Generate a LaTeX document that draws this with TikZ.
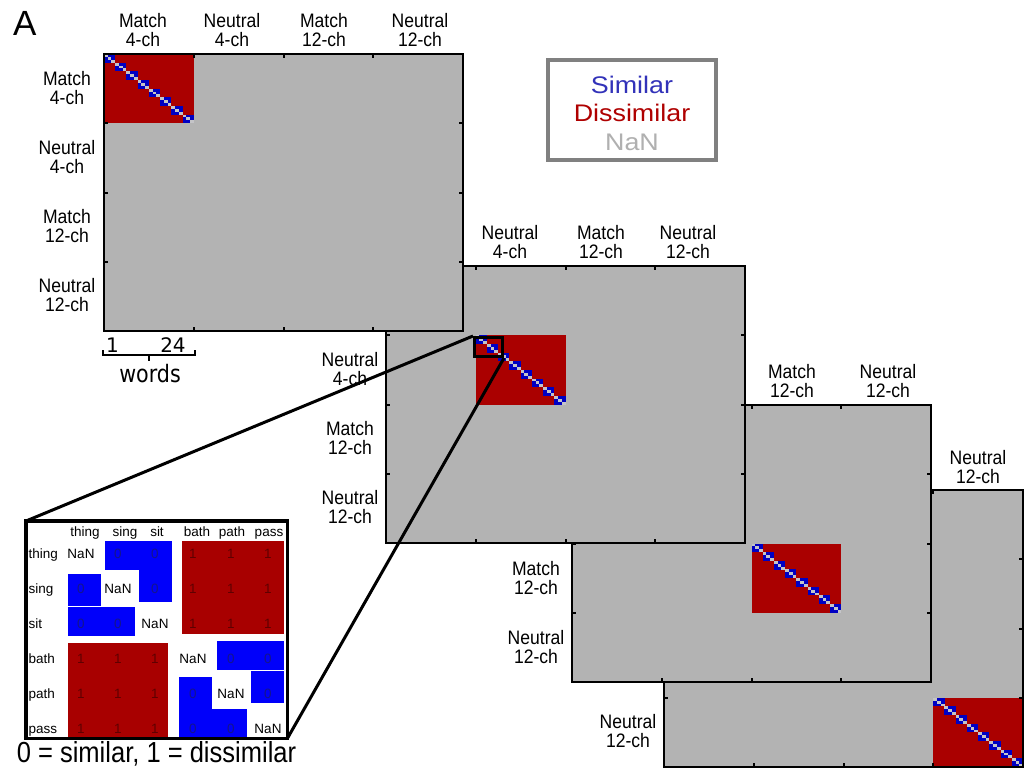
\documentclass[tikz,border=0pt]{standalone}
\usepackage{fontspec}
\setmainfont{Liberation Sans}
\newfontfamily\lblfont[FakeStretch=0.9]{Liberation Sans}
\newfontfamily\capfont[FakeStretch=0.88]{Liberation Sans}
\newfontfamily\legfont[FakeStretch=1.12]{Liberation Sans}
\newfontfamily\wordfont[FakeStretch=0.86]{DejaVu Sans}
\newfontfamily\numfont{DejaVu Sans}

\definecolor{nangray}{RGB}{179,179,179}
\definecolor{diaggray}{RGB}{196,196,200}
\definecolor{dissimred}{RGB}{170,0,0}
\definecolor{diagblue}{RGB}{0,0,195}
\definecolor{cellblue}{RGB}{0,0,250}
\definecolor{cellred}{RGB}{168,0,0}
\definecolor{zerotext}{RGB}{20,20,140}
\definecolor{onetext}{RGB}{95,0,0}
\definecolor{legblue}{RGB}{50,50,185}
\definecolor{legred}{RGB}{175,0,0}
\definecolor{leggray}{RGB}{176,176,176}
\definecolor{legframe}{RGB}{128,128,128}

\def\mw{359}
\def\mh{277}

\tikzset{
  frame/.style={draw=black, line width=2.2pt},
  tickmark/.style={black, line width=2pt},
  axlabel/.style={align=center, inner sep=0pt, font=\lblfont\fontsize{19.5}{18.5}\selectfont},
  celltext/.style={inner sep=0pt, anchor=base, font=\fontsize{13.5}{14}\selectfont},
  headtext/.style={inner sep=0pt, anchor=base, font=\fontsize{13.5}{14}\selectfont},
  rowtext/.style={inner sep=0pt, anchor=base west, font=\fontsize{13.5}{14}\selectfont},
  zeroval/.style={celltext, text=zerotext},
  oneval/.style={celltext, text=onetext},
  nanval/.style={celltext, text=black},
  connector/.style={black, line width=3pt},
}

% one dissimilarity matrix: left, top, index of the condition block
\newcommand\rdmmatrix[3]{%
  \begin{scope}[shift={(#1,#2)}]
    \fill[nangray] (0,0) rectangle (\mw,\mh);
    \pgfmathsetmacro\bx{#3*\mw/4}
    \pgfmathsetmacro\by{#3*\mh/4}
    \fill[dissimred] (\bx,\by) rectangle ++(\mw/4,\mh/4);
    \foreach \g in {0,...,7}{
      \foreach \i in {0,1,2}{
        \foreach \j in {0,1,2}{
          \pgfmathsetmacro\cx{\bx+(3*\g+\j)*\mw/96}
          \pgfmathsetmacro\cy{\by+(3*\g+\i)*\mh/96}
          \ifnum\i=\j\relax\def\cc{diaggray}\else\def\cc{diagblue}\fi
          \fill[\cc] (\cx,\cy) rectangle ++(\mw/96+0.05,\mh/96+0.05);
        }}}
    \foreach \k in {1,2,3}{
      \draw[tickmark] (\k*\mw/4,0) -- ++(0,4);
      \draw[tickmark] (\k*\mw/4,\mh) -- ++(0,-4);
      \draw[tickmark] (0,\k*\mh/4) -- ++(4,0);
      \draw[tickmark] (\mw,\k*\mh/4) -- ++(-4,0);
    }
    \draw[frame] (0,0) rectangle (\mw,\mh);
  \end{scope}}

\begin{document}
\begin{tikzpicture}[x=1pt,y=-1pt]
\useasboundingbox (0,0) rectangle (1031,772);
\fill[white] (0,0) rectangle (1031,772);

% panel letter
\node[anchor=base west, inner sep=0pt, font=\fontsize{35}{35}\selectfont] (panel) at (13,35) {A};

% stacked matrices, the first one on top
\rdmmatrix{664}{490}{3}
\rdmmatrix{572}{405}{2}
\rdmmatrix{386}{266}{1}
\rdmmatrix{104}{54}{0}

% column labels
\node[axlabel] (c1a) at (143,30) {Match\\4-ch};
\node[axlabel] (c1b) at (232,30) {Neutral\\4-ch};
\node[axlabel] (c1c) at (324,30) {Match\\12-ch};
\node[axlabel] (c1d) at (420,30) {Neutral\\12-ch};
\node[axlabel] (c2b) at (510,242) {Neutral\\4-ch};
\node[axlabel] (c2c) at (601,242) {Match\\12-ch};
\node[axlabel] (c2d) at (688,242) {Neutral\\12-ch};
\node[axlabel] (c3c) at (792,381) {Match\\12-ch};
\node[axlabel] (c3d) at (888,381) {Neutral\\12-ch};
\node[axlabel] (c4d) at (978,467) {Neutral\\12-ch};

% row labels
\node[axlabel] (r1a) at (67,88) {Match\\4-ch};
\node[axlabel] (r1b) at (67,157) {Neutral\\4-ch};
\node[axlabel] (r1c) at (67,226) {Match\\12-ch};
\node[axlabel] (r1d) at (67,295) {Neutral\\12-ch};
\node[axlabel] (r2b) at (350,369) {Neutral\\4-ch};
\node[axlabel] (r2c) at (350,438) {Match\\12-ch};
\node[axlabel] (r2d) at (350,507) {Neutral\\12-ch};
\node[axlabel] (r3c) at (536,578) {Match\\12-ch};
\node[axlabel] (r3d) at (536,647) {Neutral\\12-ch};
\node[axlabel] (r4d) at (628,731) {Neutral\\12-ch};

% word index bracket
\draw[black, line width=2pt] (103,350) -- (103,355) -- (195,355) -- (195,350);
\draw[black, line width=2pt] (149,355) -- (149,361);
\node[anchor=base, inner sep=0pt, font=\numfont\fontsize{20}{20}\selectfont] (wfirst) at (112.5,352) {1};
\node[anchor=base, inner sep=0pt, font=\numfont\fontsize{20}{20}\selectfont] (wlast) at (173,352) {24};
\node[anchor=base, inner sep=0pt, font=\wordfont\fontsize{24}{24}\selectfont] (words) at (150,382) {words};

% legend
\node[draw=legframe, line width=3.5pt, fill=white, minimum width=168pt, minimum height=100pt, inner sep=0pt] (legend) at (632,110) {};
\node[align=center, inner sep=0pt, font=\legfont\fontsize{24}{28.5}\selectfont] (legendtext) at (632,113)
  {\textcolor{legblue}{Similar}\\\textcolor{legred}{Dissimilar}\\\textcolor{leggray}{NaN}};

% zoomed word block
\node[draw=black, line width=3pt, minimum width=28pt, minimum height=19pt, inner sep=0pt, anchor=north west] (zoombox) at (473,336) {};

% inset table
\node[fill=white, minimum width=261pt, minimum height=217pt, inner sep=0pt, anchor=north west] (inset) at (26,521) {};
\fill[cellblue] (105,541) rectangle (172,570);
\fill[cellblue] (68,574) rectangle (101,606);
\fill[cellblue] (139,570) rectangle (172,602);
\fill[cellblue] (68,607) rectangle (135,636);
\fill[cellred] (182,541) rectangle (284,634);
\fill[cellred] (68,643) rectangle (168,738);
\fill[cellblue] (217,641) rectangle (284,670);
\fill[cellblue] (179,677) rectangle (212,709);
\fill[cellblue] (251,671) rectangle (284,703);
\fill[cellblue] (179,709) rectangle (247,738);

\node[headtext] (hthing) at (85,536) {thing};
\node[headtext] (hsing) at (125,536) {sing};
\node[headtext] (hsit) at (157,536) {sit};
\node[headtext] (hbath) at (197,536) {bath};
\node[headtext] (hpath) at (232,536) {path};
\node[headtext] (hpass) at (269,536) {pass};

\node[rowtext] (lthing) at (28.5,558) {thing};
\node[rowtext] (lsing) at (28.5,593) {sing};
\node[rowtext] (lsit) at (28.5,628) {sit};
\node[rowtext] (lbath) at (28.5,663) {bath};
\node[rowtext] (lpath) at (28.5,698) {path};
\node[rowtext] (lpass) at (28.5,733) {pass};

\foreach \r/\y in {1/558,2/593,3/628,4/663,5/698,6/733}{
  \foreach \c/\x in {1/81,2/118,3/155,4/193,5/231,6/268}{
    \pgfmathtruncatemacro\sameblock{(\r<4 && \c<4) || (\r>3 && \c>3) ? 1 : 0}
    \ifnum\r=\c\relax
      \node[nanval] (cell-\r-\c) at (\x,\y) {NaN};
    \else\ifnum\sameblock=1\relax
      \node[zeroval] (cell-\r-\c) at (\x,\y) {0};
    \else
      \node[oneval] (cell-\r-\c) at (\x,\y) {1};
    \fi\fi
  }}

\draw[black, line width=3.5pt] (inset.north west) rectangle (inset.south east);

\node[anchor=base, inner sep=0pt, font=\capfont\fontsize{29}{30}\selectfont] (caption) at (156.5,762) {0 = similar, 1 = dissimilar};

% connectors from the zoomed block to the table
\draw[connector] (zoombox.north west) -- (inset.north west);
\draw[connector] (zoombox.south east) -- (inset.south east);
\end{tikzpicture}
\end{document}
